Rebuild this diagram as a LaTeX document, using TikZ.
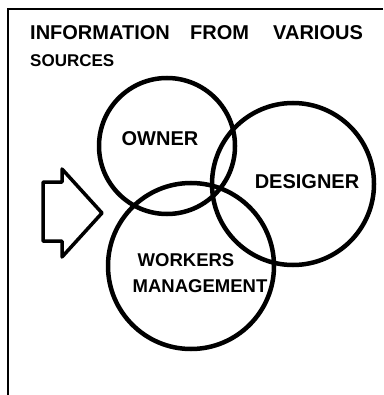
\documentclass[tikz,border=0pt]{standalone}
\usepackage{fontspec}
\setmainfont{Liberation Sans}
\usepackage{tikz}

\tikzset{
  ring/.style={draw, circle, line width=4.5pt, inner sep=0pt},
  lbl/.style={font=\bfseries\fontsize{20}{20}\selectfont, inner sep=0pt, anchor=west}
}

\begin{document}
\begin{tikzpicture}[x=1pt, y=-1pt]
    \useasboundingbox (0,0) rectangle (383,395);
    \path[line width=1.5pt, draw] (383,9) -- (8,9) -- (8,395);

    \node[lbl] (info) at (30,33) {INFORMATION};
    \node[lbl] (from) at (190,33) {FROM};
    \node[lbl] (various) at (273,33) {VARIOUS};
    \node[lbl, font=\bfseries\fontsize{17}{17}\selectfont] (sources) at (30,61) {SOURCES};

    \node[ring, minimum size=136pt] (owner) at (167,146) {};
    \node[ring, minimum size=162pt] (designer) at (293,184) {};
    \node[ring, minimum size=166pt] (workers) at (191,266) {};

    \path[line width=3.5pt, draw, line join=round]
      (43,182) -- (62,182) -- (62,169) -- (102,213) -- (62,257) -- (62,241) -- (43,241) -- cycle;

    \node[lbl, anchor=center] (ownertxt) at (160,139) {OWNER};
    \node[lbl, anchor=center] (designertxt) at (307,182) {DESIGNER};
    \node[lbl, anchor=center, font=\bfseries\fontsize{18.5}{18.5}\selectfont] (workerstxt) at (186,260) {WORKERS};
    \node[lbl, anchor=center, font=\bfseries\fontsize{18.5}{18.5}\selectfont] (managetxt) at (200,286) {MANAGEMENT};

\end{tikzpicture}
\end{document}
